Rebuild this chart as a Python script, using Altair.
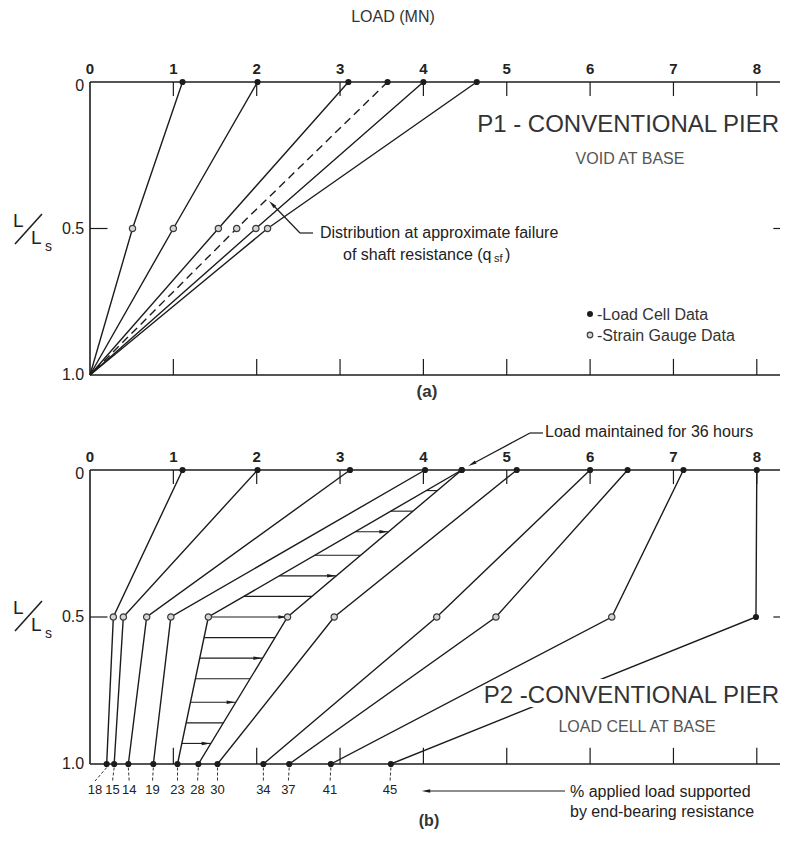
import altair as alt
import pandas as pd
import numpy as np

FONT = "Liberation Sans"
INK = "#1c1c1c"

# ---------------- data ----------------
tick_vals = [1, 2, 3, 4, 5, 6, 7, 8]
tick_labels = ["0", "1", "2", "3", "4", "5", "6", "7", "8"]
tick_label_vals = [0, 1, 2, 3, 4, 5, 6, 7, 8]
depths = [0.0, 0.5, 1.0]
depth_labels = ["0", "0.5", "1.0"]

# panel (a): P1 - void at base
a_top = [1.11, 2.01, 3.10, 3.57, 4.00, 4.64]
a_mid = [0.51, 1.00, 1.54, 1.76, 1.99, 2.13]
a_base = [0.0, 0.0, 0.0, 0.0, 0.0, 0.0]
a_dashed = [False, False, False, True, False, False]

# panel (b): P2 - load cell at base
b_top = [1.11, 2.01, 3.12, 4.02, 4.46, 4.46, 5.12, 6.00, 6.45, 7.12, 8.00]
b_mid = [0.28, 0.40, 0.68, 0.97, 1.42, 2.37, 2.93, 4.16, 4.87, 6.26, 7.99]
b_base = [0.20, 0.29, 0.46, 0.76, 1.05, 1.30, 1.53, 2.08, 2.39, 2.89, 3.61]
b_mid_cell = [False] * 10 + [True]
b_pct = [18, 15, 14, 19, 23, 28, 30, 34, 37, 41, 45]
b_pct_x = [0.06, 0.27, 0.47, 0.75, 1.05, 1.29, 1.53, 2.08, 2.38, 2.88, 3.60]

# hatching between the two curves of the load held for 36 hours
hatch_depth = [0.07, 0.14, 0.21, 0.29, 0.36, 0.43, 0.50, 0.57, 0.64, 0.71, 0.79, 0.86, 0.93]
hatch_arrow = [False, False, True, False, True, False, True, False, True, False, True, False, True]

# ---------------- geometry ----------------
W, H = 690, 682
XMAX = W / 83.35
xs = alt.Scale(domain=[0, XMAX], nice=False, zero=False)
ya = alt.Scale(domain=[0, 682 / 293], reverse=True, nice=False, zero=False)
yb = alt.Scale(domain=[-388 / 294, 1.0], reverse=True, nice=False, zero=False)

one = pd.DataFrame({"k": [0]})


def P(x):
    return x - 90


def Q(y):
    return y - 82


def lines_df(top, mid, base, extra=None):
    rows = []
    for i in range(len(top)):
        for d, v in zip(depths, [top[i], mid[i], base[i]]):
            r = {"line": i, "depth": d, "load": v}
            if extra is not None:
                r["flag"] = extra[i]
            rows.append(r)
    return pd.DataFrame(rows)


def frame_df(tick_top, tick_bot):
    rows = [
        {"x": 0, "x2": XMAX, "y": 0, "y2": 0, "w": 1.6},
        {"x": 0, "x2": 0, "y": 0, "y2": 1, "w": 1.6},
        {"x": 0, "x2": XMAX, "y": 1, "y2": 1, "w": 1.6},
        {"x": 0, "x2": 0.21, "y": 0.5, "y2": 0.5, "w": 1.2},
        {"x": XMAX - 0.08, "x2": XMAX, "y": 0.5, "y2": 0.5, "w": 1.2},
    ]
    for t in tick_vals:
        rows.append({"x": t, "x2": t, "y": 0, "y2": tick_top, "w": 1.2})
        rows.append({"x": t, "x2": t, "y": 1, "y2": 1 - tick_bot, "w": 1.2})
    return pd.DataFrame(rows)


def panel_common(ys, tick_top, tick_bot):
    fr = alt.Chart(frame_df(tick_top, tick_bot)).mark_rule(color=INK).encode(
        x=alt.X("x:Q", scale=xs, axis=None),
        x2="x2:Q",
        y=alt.Y("y:Q", scale=ys, axis=None),
        y2="y2:Q",
        strokeWidth=alt.StrokeWidth("w:Q", scale=None),
    )
    xl = alt.Chart(pd.DataFrame({"v": tick_label_vals, "t": tick_labels, "d": [-0.043] * 9})).mark_text(
        font=FONT, fontSize=15, fontWeight="bold", color="#222", baseline="middle"
    ).encode(
        x=alt.X("v:Q", scale=xs, axis=None),
        y=alt.Y("d:Q", scale=ys, axis=None),
        text="t:N",
    )
    yl = alt.Chart(pd.DataFrame({"d": [0.014, 0.5, 1.0], "t": depth_labels, "v": [-0.07] * 3})).mark_text(
        font=FONT, fontSize=16, color="#222", align="right", baseline="middle"
    ).encode(
        x=alt.X("v:Q", scale=xs, axis=None),
        y=alt.Y("d:Q", scale=ys, axis=None),
        text="t:N",
    )
    return [fr, xl, yl]


def dots(df, ys, kind):
    if kind == "cell":
        m = alt.Chart(df).mark_point(shape="circle", size=38, filled=True, color=INK, opacity=1)
    else:
        m = alt.Chart(df).mark_point(shape="circle", size=40, fill="#d4d4d4", stroke="#3a3a3a",
                                     strokeWidth=1.2, fillOpacity=1, opacity=1)
    return m.encode(x=alt.X("load:Q", scale=xs, axis=None), y=alt.Y("depth:Q", scale=ys, axis=None))


# ---------------- panel (a) ----------------
la = lines_df(a_top, a_mid, a_base, a_dashed)
a_solid = alt.Chart(la[~la["flag"]]).mark_line(color=INK, strokeWidth=1.4).encode(
    x=alt.X("load:Q", scale=xs, axis=None),
    y=alt.Y("depth:Q", scale=ya, axis=None),
    detail="line:N",
    order="depth:Q",
)
a_dash = alt.Chart(la[la["flag"]]).mark_line(color=INK, strokeWidth=1.4, strokeDash=[8, 5]).encode(
    x=alt.X("load:Q", scale=xs, axis=None),
    y=alt.Y("depth:Q", scale=ya, axis=None),
    detail="line:N",
    order="depth:Q",
)
a_top_df = pd.DataFrame({"load": a_top, "depth": 0.0})
a_mid_df = pd.DataFrame({"load": a_mid, "depth": 0.5})
panel_a = alt.layer(
    *panel_common(ya, 0.048, 0.055),
    a_solid, a_dash,
    dots(a_mid_df, ya, "gauge"),
    dots(a_top_df, ya, "cell"),
)

# ---------------- panel (b) ----------------
lb = lines_df(b_top, b_mid, b_base)
b_lines = alt.Chart(lb).mark_line(color=INK, strokeWidth=1.4).encode(
    x=alt.X("load:Q", scale=xs, axis=None),
    y=alt.Y("depth:Q", scale=yb, axis=None),
    detail="line:N",
    order="depth:Q",
)
hx0 = np.interp(hatch_depth, depths, [b_top[4], b_mid[4], b_base[4]])
hx1 = np.interp(hatch_depth, depths, [b_top[5], b_mid[5], b_base[5]])
hatch = pd.DataFrame({"x0": hx0, "x1": hx1, "depth": hatch_depth, "arrow": hatch_arrow})
b_hatch = alt.Chart(hatch).mark_rule(color=INK, strokeWidth=1.1).encode(
    x=alt.X("x0:Q", scale=xs, axis=None),
    x2="x1:Q",
    y=alt.Y("depth:Q", scale=yb, axis=None),
)
ARROW = "M -1 -0.42 L 1 0 L -1 0.42 Z"
b_heads = alt.Chart(hatch[hatch["arrow"]]).mark_point(
    shape=ARROW, size=70, filled=True, color=INK, opacity=1, xOffset=-5
).encode(
    x=alt.X("x1:Q", scale=xs, axis=None),
    y=alt.Y("depth:Q", scale=yb, axis=None),
)
b_top_df = pd.DataFrame({"load": b_top, "depth": 0.0})
b_mid_df = pd.DataFrame({"load": b_mid, "depth": 0.5, "cell": b_mid_cell})
b_base_df = pd.DataFrame({"load": b_base, "depth": 1.0})
pct = pd.DataFrame({"x": b_base, "lx": b_pct_x, "t": [str(p) for p in b_pct],
                    "y0": 1.012, "y1": 1.058, "ty": 1.088})
b_lead = alt.Chart(pct).mark_rule(color="#333", strokeWidth=1, strokeDash=[3, 2]).encode(
    x=alt.X("x:Q", scale=xs, axis=None),
    x2="lx:Q",
    y=alt.Y("y0:Q", scale=yb, axis=None),
    y2="y1:Q",
)
b_pct_txt = alt.Chart(pct).mark_text(font=FONT, fontSize=13, color="#222", baseline="middle").encode(
    x=alt.X("lx:Q", scale=xs, axis=None),
    y=alt.Y("ty:Q", scale=yb, axis=None),
    text="t:N",
)
panel_b = alt.layer(
    *panel_common(yb, 0.048, 0.055),
    b_hatch, b_heads, b_lines,
    b_lead, b_pct_txt,
    dots(b_mid_df[~b_mid_df["cell"]], yb, "gauge"),
    dots(b_mid_df[b_mid_df["cell"]], yb, "cell"),
    dots(b_top_df, yb, "cell"),
    dots(b_base_df, yb, "cell"),
)


# ---------------- annotations (pixel positions) ----------------
def txt(s, x, y, size, align="left", weight="normal", color="#222", baseline="middle"):
    return alt.Chart(one).mark_text(
        text=s, font=FONT, fontSize=size, fontWeight=weight, color=color, align=align, baseline=baseline
    ).encode(x=alt.value(P(x)), y=alt.value(Q(y)))


def seg(x1, y1, x2, y2, w=1.2, color=INK):
    return alt.Chart(one).mark_rule(color=color, strokeWidth=w).encode(
        x=alt.value(P(x1)), y=alt.value(Q(y1)), x2=alt.value(P(x2)), y2=alt.value(Q(y2))
    )


def head(x, y, angle, size=70):
    return alt.Chart(one).mark_point(shape=ARROW, size=size, filled=True, color=INK, opacity=1,
                                     angle=angle).encode(x=alt.value(P(x)), y=alt.value(Q(y)))


def ls_label(dy):
    return [
        txt("L", 13, 227 + dy, 19, baseline="alphabetic", color="#222"),
        seg(15, 244 + dy, 42, 214 + dy, w=1.6, color="#222"),
        txt("L", 31, 244 + dy, 19, baseline="alphabetic", color="#222"),
        txt("s", 45, 251 + dy, 14, baseline="alphabetic", color="#222"),
    ]


white_box = alt.Chart(one).mark_rect(color="white").encode(
    x=alt.value(P(494)), x2=alt.value(P(780)), y=alt.value(Q(679)), y2=alt.value(Q(707))
)

annot = [
    txt("LOAD (MN)", 393, 17, 16, align="center", color="#333"),
    *ls_label(0),
    *ls_label(387),
    # panel (a)
    txt("P1 - CONVENTIONAL PIER", 779, 125, 24, align="right", color="#333"),
    txt("VOID AT BASE", 630, 159, 16, align="center", color="#555"),
    txt("Distribution at approximate failure", 320, 233, 16),
    txt("of shaft resistance (q", 343, 255, 16),
    txt("sf", 494, 259, 11),
    txt(")", 505, 255, 16),
    seg(313, 233, 300, 233),
    seg(300, 233, 274, 206),
    head(272, 204, 226),
    alt.Chart(one).mark_point(shape="circle", size=36, filled=True, color=INK, opacity=1).encode(
        x=alt.value(P(590)), y=alt.value(Q(314))),
    txt("-Load Cell Data", 597, 315, 16, color="#333"),
    alt.Chart(one).mark_point(shape="circle", size=32, fill="#d4d4d4", stroke="#3a3a3a",
                              strokeWidth=1.1, fillOpacity=1, opacity=1).encode(
        x=alt.value(P(590)), y=alt.value(Q(335))),
    txt("-Strain Gauge Data", 597, 336, 16, color="#333"),
    txt("(a)", 427, 392, 17, align="center", weight="bold", color="#333"),
    # panel (b)
    txt("Load maintained for 36 hours", 545, 432, 16),
    seg(543, 433, 530, 433),
    seg(530, 433, 474, 463),
    head(472, 464, 152),
    white_box,
    txt("P2 -CONVENTIONAL PIER", 779, 696, 24, align="right", color="#333"),
    txt("LOAD CELL AT BASE", 637, 727, 16, align="center", color="#555"),
    txt("% applied load supported", 570, 792, 16),
    txt("by end-bearing resistance", 570, 812, 16),
    seg(565, 791, 428, 791),
    head(426, 791, 180),
    txt("(b)", 429, 821, 16, align="center", weight="bold", color="#333"),
]

chart = alt.layer(panel_a, panel_b, *annot).resolve_scale(y="independent").properties(
    width=W,
    height=H,
    autosize=alt.AutoSizeParams(type="none"),
    padding={"left": 82, "top": 74, "right": 0, "bottom": 68},
    background="white",
).configure_view(stroke=None)

chart.save("out.html", embed_options={"renderer": "svg", "actions": False})
